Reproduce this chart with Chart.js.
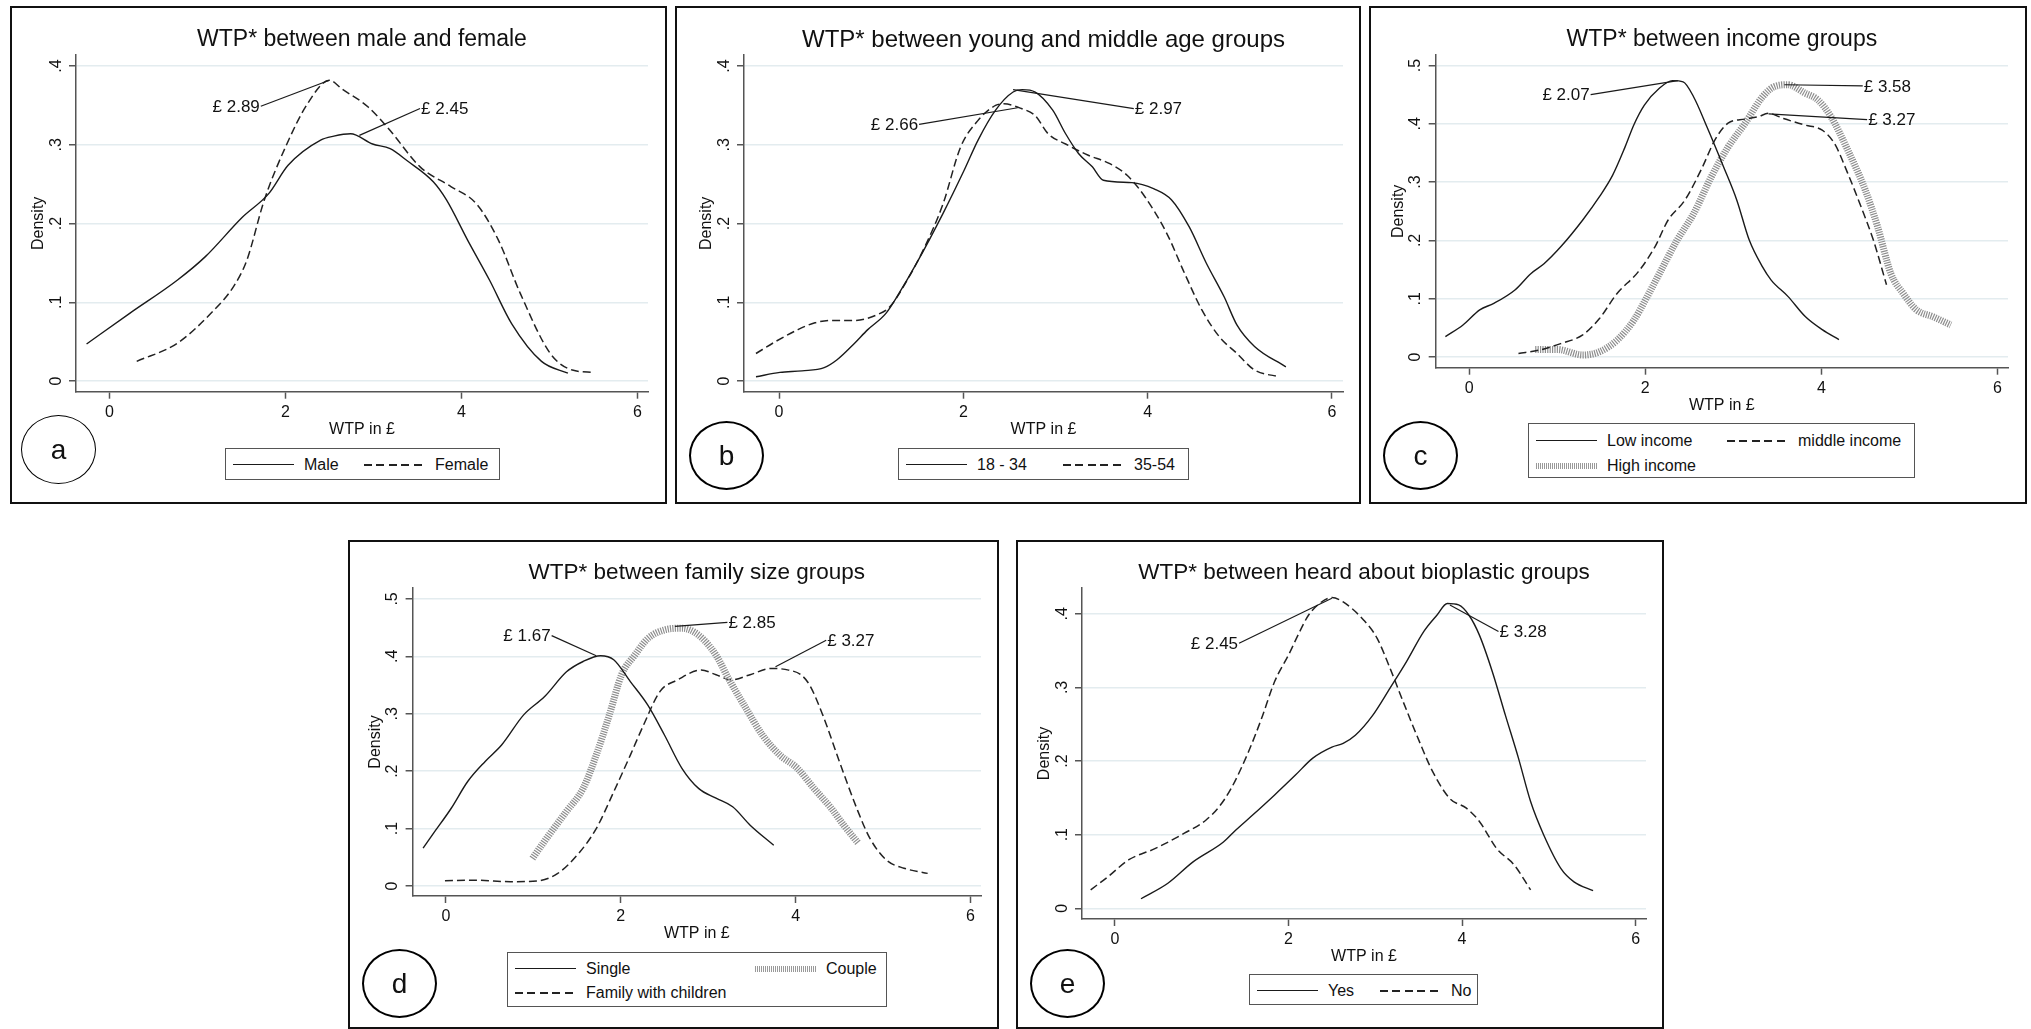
<!DOCTYPE html>
<html>
<head>
<meta charset="utf-8">
<title>WTP density by group</title>
<script src="https://cdn.jsdelivr.net/npm/chart.js@4.4.1/dist/chart.umd.min.js"></script>
<style>
  html, body { margin: 0; padding: 0; background: #fff; }
  body { position: relative; width: 2031px; height: 1029px; overflow: hidden;
         font-family: "Liberation Sans", Arial, sans-serif; color: #111; }
  .panel { position: absolute; box-sizing: border-box; border: 2px solid #111; background: #fff; }
  .panel canvas { position: absolute; left: 0; top: 0; }
  .legend { position: absolute; box-sizing: border-box; border: 1px solid #555; background: #fff; }
  .legend .sample { position: absolute; width: 61px; }
  .legend .txt { position: absolute; font-size: 16px; line-height: 16px; white-space: nowrap; }
  .tag { position: absolute; box-sizing: border-box; border: 2px solid #000; border-radius: 50%;
         display: flex; align-items: center; justify-content: center; font-size: 28px; }
</style>
</head>
<body>
<script>
// Kernel density of WTP (GBP) by respondent group, five panels a-e

// ---- axes ----
const xTicks    = [0, 2, 4, 6];
const xTickText = ['0', '2', '4', '6'];
const yTicks    = [0, 0.1, 0.2, 0.3, 0.4, 0.5];
const yTickText = ['0', '.1', '.2', '.3', '.4', '.5'];

// ---- a: male / female ----
const sexGroups = ['Male', 'Female'];
const maleX   = [-0.26, 0.23, 0.77, 1.09, 1.51, 1.81, 2.03, 2.40, 2.55, 2.74, 2.99, 3.19, 3.38, 3.68, 3.83, 4.07, 4.32, 4.57, 4.91, 5.21];
const maleY   = [0.047, 0.086, 0.128, 0.158, 0.208, 0.238, 0.274, 0.306, 0.311, 0.314, 0.301, 0.295, 0.280, 0.253, 0.230, 0.179, 0.128, 0.073, 0.025, 0.010];
const femaleX = [0.31, 0.77, 1.17, 1.41, 1.56, 1.76, 2.00, 2.25, 2.50, 2.64, 2.94, 3.19, 3.53, 3.88, 4.17, 4.42, 4.67, 5.01, 5.26, 5.50];
const femaleY = [0.025, 0.048, 0.088, 0.120, 0.153, 0.230, 0.297, 0.352, 0.382, 0.371, 0.348, 0.318, 0.272, 0.247, 0.225, 0.179, 0.111, 0.035, 0.014, 0.011];
const notesA = [
  { text: '£ 2.89', at: [1.72, 0.349], peak: [2.50, 0.382], side: 'left' },
  { text: '£ 2.45', at: [3.53, 0.346], peak: [2.84, 0.312], side: 'right' },
];

// ---- b: age ----
const ageGroups = ['18 - 34', '35-54'];
const youngX  = [-0.25, 0.01, 0.25, 0.49, 0.63, 0.82, 0.96, 1.16, 1.30, 1.49, 1.78, 2.01, 2.16, 2.35, 2.54, 2.64, 2.78, 2.97, 3.11, 3.25, 3.40, 3.52, 3.83, 4.07, 4.26, 4.45, 4.64, 4.83, 4.97, 5.16, 5.50];
const youngY  = [0.0055, 0.011, 0.013, 0.017, 0.027, 0.048, 0.065, 0.086, 0.111, 0.149, 0.213, 0.268, 0.306, 0.344, 0.367, 0.370, 0.367, 0.344, 0.314, 0.289, 0.272, 0.255, 0.252, 0.244, 0.230, 0.196, 0.149, 0.107, 0.071, 0.044, 0.018];
const midAgeX = [-0.25, -0.04, 0.20, 0.39, 0.58, 0.82, 1.06, 1.20, 1.39, 1.58, 1.78, 1.97, 2.16, 2.35, 2.44, 2.63, 2.78, 2.92, 3.11, 3.35, 3.59, 3.78, 3.97, 4.21, 4.40, 4.59, 4.78, 4.97, 5.16, 5.43];
const midAgeY = [0.035, 0.050, 0.065, 0.074, 0.077, 0.077, 0.084, 0.094, 0.128, 0.170, 0.225, 0.297, 0.331, 0.350, 0.352, 0.346, 0.337, 0.314, 0.301, 0.287, 0.276, 0.261, 0.234, 0.187, 0.137, 0.090, 0.056, 0.035, 0.014, 0.0055];
const notesB = [
  { text: '£ 2.66', at: [1.52, 0.326], peak: [2.59, 0.347], side: 'left' },
  { text: '£ 2.97', at: [3.85, 0.346], peak: [2.54, 0.370], side: 'right' },
];

// ---- c: income ----
const incomeGroups = ['Low income', 'middle income', 'High income'];
const lowX    = [-0.27, -0.07, 0.12, 0.28, 0.52, 0.70, 0.85, 1.04, 1.29, 1.48, 1.63, 1.77, 1.87, 1.99, 2.16, 2.31, 2.43, 2.55, 2.70, 2.89, 3.04, 3.18, 3.33, 3.43, 3.62, 3.82, 4.01, 4.20];
const lowY    = [0.035, 0.055, 0.081, 0.092, 0.115, 0.143, 0.160, 0.189, 0.235, 0.275, 0.312, 0.360, 0.398, 0.432, 0.461, 0.474, 0.472, 0.446, 0.395, 0.326, 0.269, 0.201, 0.155, 0.132, 0.104, 0.069, 0.047, 0.030];
const midIncX = [0.56, 0.80, 1.04, 1.29, 1.48, 1.68, 1.92, 2.11, 2.26, 2.45, 2.65, 2.79, 2.94, 3.13, 3.28, 3.40, 3.57, 3.81, 4.01, 4.15, 4.30, 4.45, 4.59, 4.74];
const midIncY = [0.006, 0.012, 0.023, 0.038, 0.066, 0.109, 0.146, 0.189, 0.235, 0.269, 0.326, 0.372, 0.401, 0.408, 0.412, 0.418, 0.409, 0.398, 0.389, 0.366, 0.315, 0.258, 0.201, 0.124];
const highX   = [0.75, 1.00, 1.29, 1.48, 1.68, 1.87, 2.02, 2.16, 2.36, 2.55, 2.75, 2.94, 3.13, 3.33, 3.47, 3.62, 3.81, 3.96, 4.11, 4.30, 4.50, 4.64, 4.79, 4.93, 5.08, 5.27, 5.47];
const highY   = [0.013, 0.013, 0.0035, 0.009, 0.029, 0.063, 0.103, 0.143, 0.200, 0.246, 0.309, 0.360, 0.400, 0.446, 0.464, 0.467, 0.453, 0.441, 0.412, 0.355, 0.286, 0.223, 0.143, 0.109, 0.081, 0.069, 0.055];
const notesC = [
  { text: '£ 2.07', at: [1.38, 0.450], peak: [2.37, 0.474], side: 'left' },
  { text: '£ 3.58', at: [4.47, 0.465], peak: [3.58, 0.467], side: 'right' },
  { text: '£ 3.27', at: [4.52, 0.407], peak: [3.40, 0.417], side: 'right' },
];

// ---- d: family size ----
const familyGroups = ['Single', 'Couple', 'Family with children'];
const singleX = [-0.26, -0.14, 0.06, 0.25, 0.45, 0.64, 0.89, 1.13, 1.38, 1.57, 1.77, 1.92, 2.11, 2.31, 2.50, 2.70, 2.89, 3.09, 3.28, 3.48, 3.75];
const singleY = [0.066, 0.092, 0.135, 0.182, 0.217, 0.246, 0.298, 0.330, 0.373, 0.391, 0.401, 0.394, 0.356, 0.315, 0.263, 0.205, 0.170, 0.153, 0.138, 0.106, 0.071];
const coupleX = [0.99, 1.18, 1.38, 1.57, 1.72, 1.87, 2.01, 2.16, 2.31, 2.50, 2.70, 2.89, 3.09, 3.23, 3.43, 3.62, 3.82, 4.02, 4.21, 4.41, 4.55, 4.72];
const coupleY = [0.048, 0.089, 0.130, 0.170, 0.228, 0.298, 0.368, 0.402, 0.431, 0.446, 0.449, 0.437, 0.402, 0.362, 0.310, 0.263, 0.228, 0.205, 0.170, 0.135, 0.106, 0.074];
const familyX = [-0.01, 0.35, 0.74, 1.04, 1.28, 1.52, 1.72, 1.92, 2.11, 2.26, 2.45, 2.65, 2.92, 3.09, 3.26, 3.48, 3.72, 3.92, 4.06, 4.16, 4.31, 4.50, 4.70, 4.85, 5.04, 5.24, 5.51];
const familyY = [0.0093, 0.010, 0.0075, 0.0087, 0.022, 0.057, 0.100, 0.164, 0.228, 0.280, 0.339, 0.359, 0.376, 0.368, 0.359, 0.368, 0.379, 0.376, 0.368, 0.350, 0.298, 0.217, 0.135, 0.083, 0.045, 0.031, 0.022];
const notesD = [
  { text: '£ 1.67', at: [1.21, 0.436], peak: [1.72, 0.401], side: 'left' },
  { text: '£ 2.85', at: [3.22, 0.459], peak: [2.62, 0.452], side: 'right' },
  { text: '£ 3.27', at: [4.35, 0.428], peak: [3.77, 0.382], side: 'right' },
];

// ---- e: heard about bioplastic ----
const heardGroups = ['Yes', 'No'];
const yesX = [0.30, 0.61, 0.90, 1.25, 1.39, 1.59, 1.84, 2.08, 2.28, 2.50, 2.63, 2.77, 2.97, 3.17, 3.36, 3.56, 3.71, 3.83, 3.96, 4.08, 4.20, 4.35, 4.50, 4.65, 4.79, 4.94, 5.14, 5.29, 5.51];
const yesY = [0.013, 0.034, 0.063, 0.090, 0.106, 0.127, 0.154, 0.181, 0.204, 0.219, 0.224, 0.235, 0.262, 0.299, 0.335, 0.376, 0.398, 0.414, 0.412, 0.398, 0.371, 0.321, 0.262, 0.204, 0.145, 0.100, 0.054, 0.036, 0.024];
const noX  = [-0.28, -0.08, 0.16, 0.46, 0.80, 1.05, 1.20, 1.34, 1.54, 1.69, 1.84, 2.00, 2.13, 2.23, 2.38, 2.50, 2.63, 2.87, 3.02, 3.17, 3.32, 3.51, 3.66, 3.86, 4.05, 4.20, 4.40, 4.60, 4.79];
const noY  = [0.025, 0.043, 0.066, 0.081, 0.102, 0.120, 0.138, 0.163, 0.213, 0.258, 0.308, 0.344, 0.376, 0.398, 0.416, 0.422, 0.416, 0.391, 0.367, 0.326, 0.281, 0.226, 0.186, 0.149, 0.136, 0.118, 0.081, 0.059, 0.025];
const notesE = [
  { text: '£ 2.45', at: [1.43, 0.360], peak: [2.50, 0.421], side: 'left' },
  { text: '£ 3.28', at: [4.42, 0.376], peak: [3.86, 0.412], side: 'right' },
];

// ---- look ----
const FONT = '"Liberation Sans", Arial, sans-serif';
const INK  = '#111';
const AXIS = '#555';
const GRID = '#e3ecef';

const lineStyles = {
  solid:  { borderColor: '#1a1a1a', borderWidth: 1.4, borderDash: [] },
  dashed: { borderColor: '#222', borderWidth: 1.5, borderDash: [8, 4] },
  hatch:  { borderColor: '#8e8e8e', borderWidth: 7, borderDash: [1.2, 1.2] },
};
const sampleCss = {
  solid:  'height:0;border-top:1.5px solid #1a1a1a;margin-top:-1px',
  dashed: 'height:1.5px;margin-top:-1px;background:repeating-linear-gradient(90deg,#222 0 8px,transparent 8px 12.4px)',
  hatch:  'height:6px;margin-top:-3px;background:repeating-linear-gradient(90deg,#999 0 1px,#fff 1px 2px)',
};

// page geometry in screen pixels: box = panel frame, plot = axis frame
const panels = [
  { letter: 'a', title: 'WTP* between male and female', titleSize: 23, titleY: 40,
    box: [10, 6, 657, 498], plot: [76, 55, 648, 391.7], yRange: [-0.0135, 0.414], yCount: 5,
    series: [
      { name: sexGroups[0], x: maleX, y: maleY, style: 'solid' },
      { name: sexGroups[1], x: femaleX, y: femaleY, style: 'dashed' },
    ],
    notes: notesA, legend: { box: [225, 448, 275, 32], col2: 138, rows: [16] }, tag: [58, 449] },
  { letter: 'b', title: 'WTP* between young and middle age groups', titleSize: 24, titleY: 40,
    box: [675, 6, 686, 498], plot: [744, 55, 1343, 391.7], yRange: [-0.0135, 0.414], yCount: 5,
    series: [
      { name: ageGroups[0], x: youngX, y: youngY, style: 'solid' },
      { name: ageGroups[1], x: midAgeX, y: midAgeY, style: 'dashed' },
    ],
    notes: notesB, legend: { box: [898, 448, 291, 32], col2: 164, rows: [16] }, tag: [726, 455] },
  { letter: 'c', title: 'WTP* between income groups', titleSize: 23, titleY: 40,
    box: [1369, 6, 658, 498], plot: [1435.7, 55, 2008, 367.7], yRange: [-0.0183, 0.518], yCount: 6,
    series: [
      { name: incomeGroups[0], x: lowX, y: lowY, style: 'solid' },
      { name: incomeGroups[1], x: midIncX, y: midIncY, style: 'dashed' },
      { name: incomeGroups[2], x: highX, y: highY, style: 'hatch' },
    ],
    notes: notesC, legend: { box: [1528, 423, 387, 55], col2: 198, rows: [17, 42] }, tag: [1420, 455] },
  { letter: 'd', title: 'WTP* between family size groups', titleSize: 22.5, titleY: 573,
    box: [348, 540, 651, 489], plot: [412.6, 588, 981, 896], yRange: [-0.0174, 0.519], yCount: 6,
    series: [
      { name: familyGroups[0], x: singleX, y: singleY, style: 'solid' },
      { name: familyGroups[1], x: coupleX, y: coupleY, style: 'hatch' },
      { name: familyGroups[2], x: familyX, y: familyY, style: 'dashed' },
    ],
    notes: notesD, legend: { box: [507, 952, 380, 55], col2: 247, rows: [16, 40] }, tag: [399, 983] },
  { letter: 'e', title: 'WTP* between heard about bioplastic groups', titleSize: 22.5, titleY: 573,
    box: [1016, 540, 648, 489], plot: [1082, 588, 1646, 919], yRange: [-0.0145, 0.435], yCount: 5,
    series: [
      { name: heardGroups[0], x: yesX, y: yesY, style: 'solid' },
      { name: heardGroups[1], x: noX, y: noY, style: 'dashed' },
    ],
    notes: notesE, legend: { box: [1249, 974, 229, 31], col2: 130, rows: [16] }, tag: [1067, 983] },
];

// £ labels with a leader line to the peak, placed in data units
const peakNotes = {
  id: 'peakNotes',
  afterDatasetsDraw(chart, args, opts) {
    const { ctx, scales: { x, y } } = chart;
    ctx.save();
    ctx.strokeStyle = '#1a1a1a';
    ctx.lineWidth = 1.2;
    ctx.fillStyle = INK;
    ctx.font = '17px ' + FONT;
    ctx.textBaseline = 'middle';
    for (const n of opts.notes) {
      const ax = x.getPixelForValue(n.at[0]), ay = y.getPixelForValue(n.at[1]);
      const px = x.getPixelForValue(n.peak[0]), py = y.getPixelForValue(n.peak[1]);
      ctx.beginPath();
      ctx.moveTo(ax, ay);
      ctx.lineTo(px, py);
      ctx.stroke();
      const left = n.side === 'left';
      ctx.textAlign = left ? 'right' : 'left';
      ctx.fillText(n.text, ax + (left ? -1 : 1), ay + 1);
    }
    ctx.restore();
  },
};

const Y_AXIS_W = 50;   // tick marks + rotated labels + "Density"
const X_AXIS_H = 45.5; // tick marks + labels + "WTP in £"

function buildPanel(p) {
  const frame = document.createElement('div');
  frame.className = 'panel';
  frame.style.cssText = `left:${p.box[0]}px;top:${p.box[1]}px;width:${p.box[2]}px;height:${p.box[3]}px`;
  const W = p.box[2] - 4, H = p.box[3] - 4;
  const canvas = document.createElement('canvas');
  canvas.width = W; canvas.height = H;
  canvas.style.width = W + 'px'; canvas.style.height = H + 'px';
  frame.appendChild(canvas);
  document.body.appendChild(frame);

  const ox = p.box[0] + 2, oy = p.box[1] + 2;
  const left = p.plot[0] - ox, top = p.plot[1] - oy, right = p.plot[2] - ox, bottom = p.plot[3] - oy;
  const titleTop = (p.titleY - oy) - p.titleSize / 2;
  const ticksY = yTicks.slice(0, p.yCount);

  new Chart(canvas, {
    type: 'line',
    data: {
      datasets: p.series.map(s => ({
        label: s.name,
        data: s.x.map((v, i) => ({ x: v, y: s.y[i] })),
        pointRadius: 0,
        fill: false,
        cubicInterpolationMode: 'monotone',
        borderCapStyle: 'butt',
        ...lineStyles[s.style],
      })),
    },
    options: {
      responsive: false,
      animation: false,
      events: [],
      layout: { padding: { left: left - Y_AXIS_W, right: W - right, top: 0, bottom: H - bottom - X_AXIS_H } },
      plugins: {
        legend: { display: false },
        tooltip: { enabled: false },
        title: {
          display: true, text: p.title, fullSize: false, color: INK,
          font: { family: FONT, size: p.titleSize, weight: 'normal', lineHeight: 1 },
          padding: { top: titleTop, bottom: top - titleTop - p.titleSize },
        },
        peakNotes: { notes: p.notes },
      },
      scales: {
        x: {
          type: 'linear', min: -0.38, max: 6.12,
          afterBuildTicks: s => { s.ticks = xTicks.map(v => ({ value: v })); },
          afterFit: s => { s.height = X_AXIS_H; },
          border: { display: true, color: AXIS, width: 1.5 },
          grid: { drawOnChartArea: false, drawTicks: true, tickLength: 7, tickColor: AXIS, tickWidth: 1.5 },
          ticks: { color: INK, font: { family: FONT, size: 16 }, padding: 4, maxRotation: 0, autoSkip: false,
                   callback: (v, i) => xTickText[i] },
          title: { display: true, text: 'WTP in £', color: INK, font: { family: FONT, size: 16, lineHeight: 1 },
                   padding: { top: 0, bottom: 0 } },
        },
        y: {
          type: 'linear', min: p.yRange[0], max: p.yRange[1],
          afterBuildTicks: s => { s.ticks = ticksY.map(v => ({ value: v })); },
          afterFit: s => { s.width = Y_AXIS_W; },
          border: { display: true, color: AXIS, width: 1.5 },
          grid: { color: GRID, lineWidth: 1.5, drawTicks: true, tickLength: 7, tickColor: AXIS, tickWidth: 1.5 },
          ticks: { color: INK, font: { family: FONT, size: 16 }, padding: 6, minRotation: 90, maxRotation: 90,
                   crossAlign: 'center', autoSkip: false, callback: (v, i) => yTickText[i] },
          title: { display: true, text: 'Density', color: INK, font: { family: FONT, size: 16, lineHeight: 1 },
                   padding: { top: 5, bottom: 0 } },
        },
      },
    },
    plugins: [peakNotes],
  });

  // legend box, Stata style: two columns, rows filled left to right
  const lg = document.createElement('div');
  lg.className = 'legend';
  const [lx, ly, lw, lh] = p.legend.box;
  lg.style.cssText = `left:${lx}px;top:${ly}px;width:${lw}px;height:${lh}px`;
  p.series.forEach((s, i) => {
    const col = i % 2 ? p.legend.col2 : 7;
    const rowY = p.legend.rows[Math.floor(i / 2)];
    const sample = document.createElement('div');
    sample.className = 'sample';
    sample.style.cssText = `left:${col}px;top:${rowY}px;` + sampleCss[s.style];
    const txt = document.createElement('div');
    txt.className = 'txt';
    txt.style.cssText = `left:${col + 71}px;top:${rowY - 8}px`;
    txt.textContent = s.name;
    lg.appendChild(sample);
    lg.appendChild(txt);
  });
  document.body.appendChild(lg);

  // panel letter in an oval
  const tag = document.createElement('div');
  tag.className = 'tag';
  tag.style.cssText = `left:${p.tag[0] - 37}px;top:${p.tag[1] - 34}px;width:75px;height:69px` +
    (p.letter === 'a' ? ';border-width:1px' : '');
  tag.textContent = p.letter;
  document.body.appendChild(tag);
}

panels.forEach(buildPanel);
</script>
</body>
</html>
